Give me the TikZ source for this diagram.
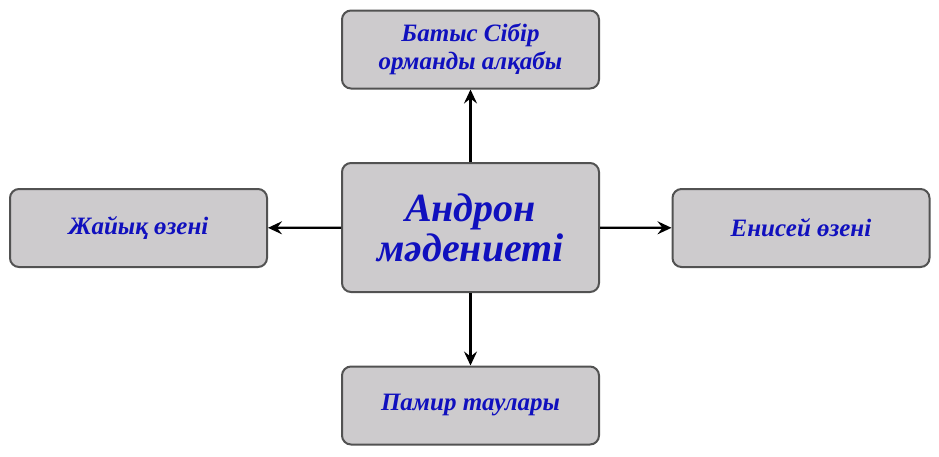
\documentclass[tikz,border=0pt]{standalone}
\usepackage{fontspec}
\setmainfont{Liberation Serif}
\usetikzlibrary{arrows.meta}
\usepackage{xcolor}
\definecolor{caixa}{HTML}{CDCBCD}
\definecolor{borda}{HTML}{525252}
\definecolor{texto}{HTML}{1010BE}

\begin{document}
\begin{tikzpicture}[x=1pt,y=-1pt,
    bloco/.style={draw=borda, fill=caixa, line width=2pt, rounded corners=9pt,
        minimum width=257pt, minimum height=78pt, align=center, text=texto,
        font=\bfseries\itshape\fontsize{25}{28}\selectfont},
    seta/.style={-{Stealth[length=14pt,width=13pt,inset=5pt]}, line width=2.2pt}]
    \useasboundingbox (0,0) rectangle (939,456);
    % Caixas
    \node[bloco, minimum height=129pt, font=\bfseries\itshape\fontsize{40}{40}\selectfont] (centro) at (470.5,227.5) {Андрон\\мәдениеті};
    \node[bloco] (topo) at (470.5,49.5) {Батыс Сібір\\орманды алқабы};
    \node[bloco] (esq) at (138.5,228) {Жайық өзені};
    \node[bloco] (dir) at (801,228) {Енисей өзені};
    \node[bloco] (baixo) at (470.5,405.5) {Памир таулары};
    % Setas
    \foreach \b in {topo,esq,dir,baixo} {
        \draw[seta] (centro) -- (\b);
    }
\end{tikzpicture}
\end{document}
